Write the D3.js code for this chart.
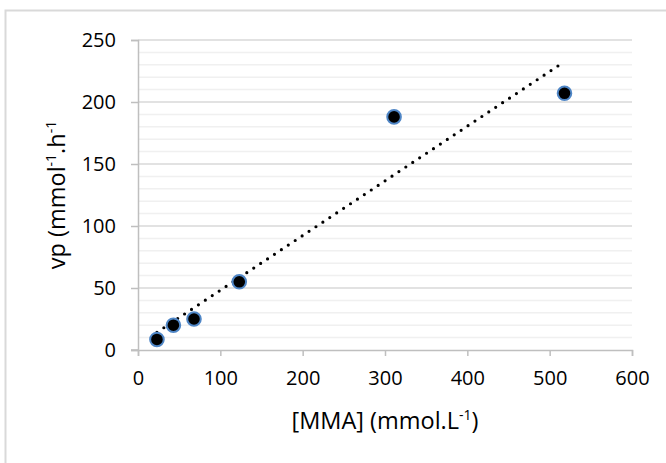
<!DOCTYPE html>
<html>
<head>
<meta charset="utf-8">
<script src="https://cdn.jsdelivr.net/npm/d3@7"></script>
<style>
  body { margin: 0; background: #fff; }
  text { font-family: "Open Sans", sans-serif; fill: #000; }
</style>
</head>
<body>
<div id="chart"></div>
<script>
// values
var mma = [23, 43, 68, 123, 311, 518];
var vp = [8.5, 20, 25, 55, 188, 207];
var xTicks = [0, 100, 200, 300, 400, 500, 600];
var yTicks = [0, 50, 100, 150, 200, 250];

var width = 666, height = 463;
var margin = {top: 40, right: 34, bottom: 113, left: 138};

var svg = d3.select("#chart").append("svg")
    .attr("width", width)
    .attr("height", height);

// chart area border (runs off the right and bottom edges)
svg.append("rect")
    .attr("x", 5.5).attr("y", 10.5)
    .attr("width", 700).attr("height", 500)
    .attr("fill", "none")
    .attr("stroke", "#d9d9d9")
    .attr("stroke-width", 2);

var x = d3.scaleLinear().domain([0, 600]).range([margin.left, width - margin.right]);
var y = d3.scaleLinear().domain([0, 250]).range([height - margin.bottom, margin.top]);

// minor gridlines every 10
var minor = d3.range(10, 250, 10).filter(function(d) { return d % 50 != 0; });
svg.append("g").selectAll("line").data(minor)
    .enter().append("line")
    .attr("x1", x(0)).attr("x2", x(600))
    .attr("y1", function(d) { return y(d); })
    .attr("y2", function(d) { return y(d); })
    .attr("stroke", "#f0f0f0")
    .attr("stroke-width", 1.5);

// major gridlines
svg.append("g").selectAll("line").data(yTicks.filter(function(d) { return d > 0; }))
    .enter().append("line")
    .attr("x1", x(0)).attr("x2", x(600))
    .attr("y1", function(d) { return y(d); })
    .attr("y2", function(d) { return y(d); })
    .attr("stroke", "#d9d9d9")
    .attr("stroke-width", 1.5);

// y axis
var yAxis = d3.axisLeft(y).tickValues(yTicks).tickSize(7).tickPadding(15);
var gy = svg.append("g")
    .attr("transform", "translate(" + x(0) + ",0)")
    .call(yAxis);
gy.select(".domain").attr("stroke", "#bfbfbf").attr("stroke-width", 1.5);
gy.selectAll(".tick line").attr("stroke", "#bfbfbf").attr("stroke-width", 1.5);
gy.selectAll("text").style("font-size", "20px").style("font-family", "Open Sans").attr("fill", "#000");

// x axis
var xAxis = d3.axisBottom(x).tickValues(xTicks).tickSize(6).tickPadding(15);
var gx = svg.append("g")
    .attr("transform", "translate(0," + y(0) + ")")
    .call(xAxis);
gx.select(".domain").attr("stroke", "#bfbfbf").attr("stroke-width", 1.5);
gx.selectAll(".tick line").attr("stroke", "#bfbfbf").attr("stroke-width", 1.5);
gx.selectAll("text").style("font-size", "20px").style("font-family", "Open Sans").attr("fill", "#000");
// the 0 tick also extends left of the y axis
svg.append("line")
    .attr("x1", x(0) - 7).attr("x2", x(0))
    .attr("y1", y(0)).attr("y2", y(0))
    .attr("stroke", "#bfbfbf").attr("stroke-width", 1.5);

// linear trendline (least squares)
var mx = d3.mean(mma), my = d3.mean(vp);
var sxy = d3.sum(mma, function(d, i) { return (d - mx) * (vp[i] - my); });
var sxx = d3.sum(mma, function(d) { return (d - mx) * (d - mx); });
var slope = sxy / sxx, intercept = my - slope * mx;
var xMin = d3.min(mma), xMax = d3.max(mma);
svg.append("line")
    .attr("x1", x(xMin)).attr("y1", y(intercept + slope * xMin))
    .attr("x2", x(xMax)).attr("y2", y(intercept + slope * xMax))
    .attr("stroke", "#000")
    .attr("stroke-width", 3.2)
    .attr("stroke-linecap", "round")
    .attr("stroke-dasharray", "0 8.3");

// data points
svg.append("g").selectAll("circle").data(mma)
    .enter().append("circle")
    .attr("cx", function(d) { return x(d); })
    .attr("cy", function(d, i) { return y(vp[i]); })
    .attr("r", 6.8)
    .attr("fill", "#000")
    .attr("stroke", "#4f86c6")
    .attr("stroke-width", 2);

// axis titles
var xt = svg.append("text")
    .attr("x", (x(0) + x(600)) / 2)
    .attr("y", 429)
    .attr("text-anchor", "middle")
    .style("font-size", "23.5px");
xt.append("tspan").text("[MMA] (mmol.L");
xt.append("tspan").attr("dy", -9).style("font-size", "14px").text("-1");
xt.append("tspan").attr("dy", 9).text(")");

var yt = svg.append("text")
    .attr("transform", "translate(65," + (y(0) + y(250)) / 2 + ") rotate(-90)")
    .attr("text-anchor", "middle")
    .style("font-size", "23.5px");
yt.append("tspan").text("vp (mmol");
yt.append("tspan").attr("dy", -9).style("font-size", "14px").text("-1");
yt.append("tspan").attr("dy", 9).text(".h");
yt.append("tspan").attr("dy", -9).style("font-size", "14px").text("-1");
</script>
</body>
</html>
